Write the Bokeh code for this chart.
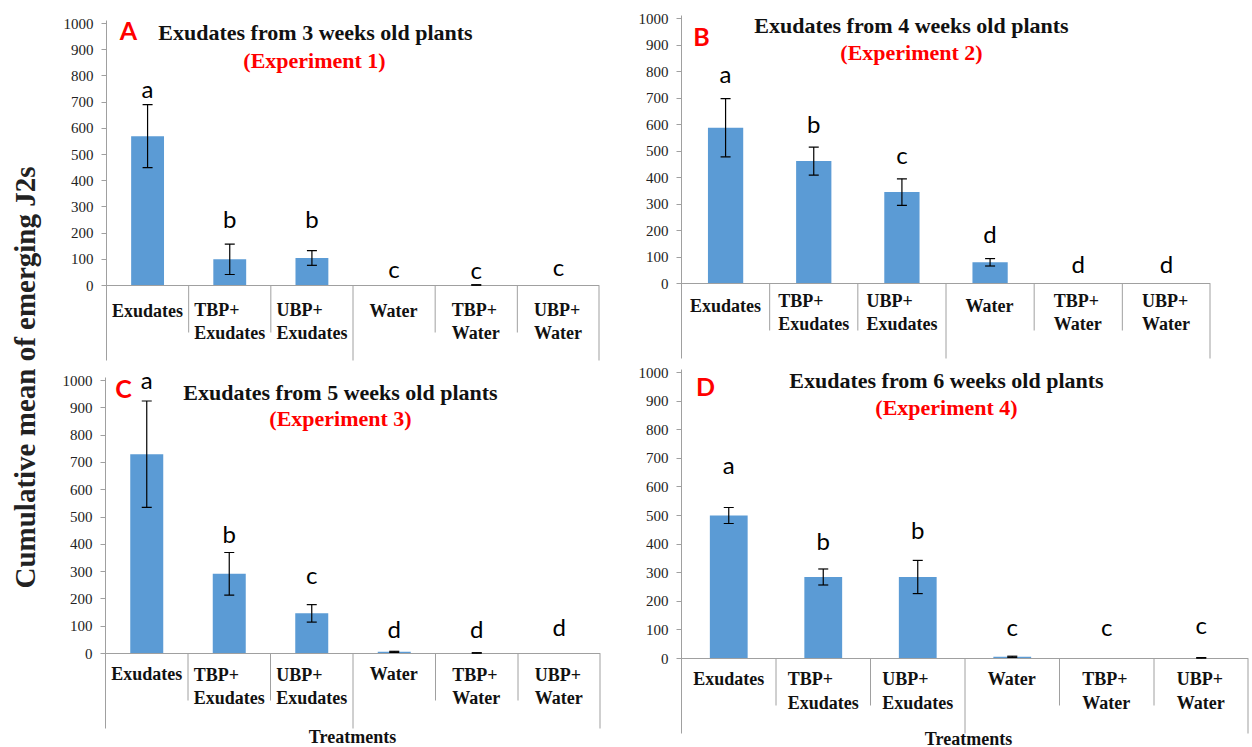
import math
from bokeh.plotting import figure
from bokeh.models import ColumnDataSource, FactorRange, Range1d, FixedTicker, Whisker, TeeHead
from bokeh.layouts import row, column
from bokeh.core.properties import value
from bokeh.embed import file_html
from bokeh.resources import INLINE

# ---------------- data ----------------
categories = ["Exudates", "TBP+ Exudates", "UBP+ Exudates", "Water", "TBP+ Water", "UBP+ Water"]
y_ticks = [0, 100, 200, 300, 400, 500, 600, 700, 800, 900, 1000]
panel_tags = ["A", "B", "C", "D"]
titles = ["Exudates from 3 weeks old plants", "Exudates from 4 weeks old plants",
          "Exudates from 5 weeks old plants", "Exudates from 6 weeks old plants"]
experiments = ["(Experiment 1)", "(Experiment 2)", "(Experiment 3)", "(Experiment 4)"]
y_label = "Cumulative mean of emerging J2s"
x_label = "Treatments"

means_A = [570, 100, 105, 0, 2, 0]
errors_A = [120, 58, 28, 0, 1, 0]
letters_A = ["a", "b", "b", "c", "c", "c"]
letter_y_A = [718, 221, 221, 31, 26, 40]

means_B = [588, 462, 345, 80, 0, 0]
errors_B = [110, 53, 50, 14, 0, 0]
letters_B = ["a", "b", "c", "d", "d", "d"]
letter_y_B = [758, 570, 453, 155, 42, 42]

means_C = [730, 292, 147, 6, 2, 0]
errors_C = [195, 78, 32, 2, 1, 0]
letters_C = ["a", "b", "c", "d", "d", "d"]
letter_y_C = [971, 407, 256, 59, 59, 66]

means_D = [500, 285, 285, 6, 0, 2]
errors_D = [28, 28, 58, 2, 0, 1]
letters_D = ["a", "b", "b", "c", "c", "c"]
letter_y_D = [647, 381, 420, 80, 80, 87]

# ---------------- style / layout ----------------
SERIF = "Liberation Serif"
SANS = "Lato"
BLUE = "#5B9BD5"
GRAY = "#A0A0A0"
RED = "#FF0000"
LETTER_SHIFT = -9   # px, compensates the sans font's baseline placement
TAG_SHIFT = -3

# page-pixel geometry of each panel
GEO = [
    dict(fx=48, fy=0, w=572, h=365, fl=106, fr=599, y0=285, y1000=23,
         tag=(128, 32), title=(315, 32), exp=(314, 60), lab=(25, 24, 47)),
    dict(fx=620, fy=0, w=632, h=365, fl=681, fr=1210, y0=283, y1000=18,
         tag=(701, 38), title=(911, 25), exp=(911, 52), lab=(22, 17, 40)),
    dict(fx=48, fy=365, w=572, h=382, fl=105, fr=600, y0=653, y1000=380,
         tag=(123, 390), title=(340, 392), exp=(340, 418), lab=(20, 21, 44), xl=(352, 736)),
    dict(fx=620, fy=365, w=632, h=382, fl=681, fr=1248, y0=658, y1000=372,
         tag=(705, 388), title=(946, 380), exp=(946, 407), lab=(20, 20, 44), xl=(968, 738)),
]

TIMES_BOLD = {"E": 667, "x": 500, "u": 556, "d": 556, "a": 500, "t": 333, "e": 444,
              "s": 389, "T": 667, "B": 667, "P": 611, "+": 570, "U": 722, "W": 1000, "r": 444}
CAT_SIZE = 18


def text_w(s, size):
    return sum(TIMES_BOLD.get(c, 500) for c in s) / 1000.0 * size


def panel(i, means, errors, letters, letter_y):
    g = GEO[i]
    scale = (g["y0"] - g["y1000"]) / 1000.0
    cell = (g["fr"] - g["fl"]) / 6.0
    y_end = (g["y0"] - g["fy"]) / scale
    y_start = -(g["fy"] + g["h"] - g["y0"]) / scale

    def px_x(px):
        return (px - g["fl"]) / cell

    def px_y(py):
        return (g["y0"] - py) / scale

    p = figure(width=g["w"], height=g["h"], title=None,
               x_range=FactorRange(*categories, range_padding=0, factor_padding=0),
               y_range=Range1d(y_start, y_end),
               output_backend="svg", toolbar_location=None, x_axis_location=None,
               min_border_left=g["fl"] - g["fx"], min_border_right=g["fx"] + g["w"] - g["fr"],
               min_border_top=0, min_border_bottom=0)
    p.outline_line_color = None
    p.grid.visible = False
    p.background_fill_color = "white"
    p.border_fill_color = "white"

    ax = p.yaxis[0]
    ax.ticker = FixedTicker(ticks=y_ticks)
    ax.bounds = (-75 / scale, 1000 + 3 / scale)
    ax.axis_line_color = GRAY
    ax.major_tick_line_color = GRAY
    ax.minor_tick_line_color = None
    ax.major_tick_in = 0
    ax.major_tick_out = 5
    ax.major_label_standoff = 8
    ax.major_label_text_font = SERIF
    ax.major_label_text_font_size = "15px"
    ax.major_label_text_color = "#222222"

    # bars
    src = ColumnDataSource(dict(cat=categories, val=means))
    p.vbar(x="cat", top="val", bottom=0, width=0.4, source=src,
           fill_color=BLUE, line_color=None)

    # axis table lines
    inner = -47 / scale
    outer = -75 / scale
    p.segment(x0=[1, 2, 3, 4, 5], y0=[0] * 5, x1=[1, 2, 3, 4, 5],
              y1=[inner, inner, outer, inner, inner], line_color=GRAY, line_width=1)
    p.segment(x0=[6], y0=[0], x1=[6], y1=[outer], line_color=GRAY, line_width=2)
    p.segment(x0=[0], y0=[0], x1=[6], y1=[0], line_color=GRAY, line_width=1)

    # error bars
    idx = [k for k in range(len(categories)) if errors[k] > 0]
    esrc = ColumnDataSource(dict(cat=[categories[k] for k in idx],
                                 up=[means[k] + errors[k] for k in idx],
                                 lo=[means[k] - errors[k] for k in idx]))
    p.add_layout(Whisker(base="cat", upper="up", lower="lo", source=esrc, level="annotation",
                         line_color="black", line_width=1.2,
                         upper_head=TeeHead(size=10, line_color="black", line_width=1.2),
                         lower_head=TeeHead(size=10, line_color="black", line_width=1.2)))

    # significance letters
    lsrc = ColumnDataSource(dict(cat=categories, ly=letter_y, lt=letters))
    p.text(x="cat", y="ly", text="lt", source=lsrc, y_offset=LETTER_SHIFT, text_align="center",
           text_baseline="alphabetic", text_font=value(SANS), text_font_size="24px",
           text_color="black")

    # category labels (left-aligned lines, block centred in its cell)
    single, l1, l2 = g["lab"]
    c1, t1, o1, y1 = [], [], [], []
    c2, t2, o2, y2 = [], [], [], []
    for c in categories:
        parts = c.split(" ", 1)
        bw = max(text_w(s, CAT_SIZE) for s in parts)
        c1.append(c); t1.append(parts[0]); o1.append(-bw / 2)
        if len(parts) == 1:
            y1.append(-single / scale)
        else:
            y1.append(-l1 / scale)
            c2.append(c); t2.append(parts[1]); o2.append(-bw / 2); y2.append(-l2 / scale)
    for cc, tt, oo, yy in ((c1, t1, o1, y1), (c2, t2, o2, y2)):
        p.text(x="cat", y="y", text="t", x_offset="xo",
               source=ColumnDataSource(dict(cat=cc, t=tt, xo=oo, y=yy)),
               text_align="left", text_baseline="middle", text_font=value(SERIF),
               text_font_style="bold", text_font_size=f"{CAT_SIZE}px", text_color="#111111")

    # panel tag, title, experiment
    p.text(x=[px_x(g["tag"][0])], y=[px_y(g["tag"][1])], text=[panel_tags[i]], y_offset=TAG_SHIFT,
           text_align="center", text_baseline="middle", text_font=value(SANS),
           text_font_style="bold", text_font_size="25px", text_color=RED)
    p.text(x=[px_x(g["title"][0])], y=[px_y(g["title"][1])], text=[titles[i]],
           text_align="center", text_baseline="middle", text_font=value(SERIF),
           text_font_style="bold", text_font_size="22px", text_color="#111111")
    p.text(x=[px_x(g["exp"][0])], y=[px_y(g["exp"][1])], text=[experiments[i]],
           text_align="center", text_baseline="middle", text_font=value(SERIF),
           text_font_style="bold", text_font_size="22px", text_color=RED)
    if "xl" in g:
        p.text(x=[px_x(g["xl"][0])], y=[px_y(g["xl"][1])], text=[x_label],
               text_align="center", text_baseline="middle", text_font=value(SERIF),
               text_font_style="bold", text_font_size="18px", text_color="#111111")
    return p


pA = panel(0, means_A, errors_A, letters_A, letter_y_A)
pB = panel(1, means_B, errors_B, letters_B, letter_y_B)
pC = panel(2, means_C, errors_C, letters_C, letter_y_C)
pD = panel(3, means_D, errors_D, letters_D, letter_y_D)

# y-axis title strip
pL = figure(width=48, height=747, title=None, x_range=Range1d(0, 48), y_range=Range1d(0, 747),
            output_backend="svg", toolbar_location=None,
            x_axis_location=None, y_axis_location=None, min_border=0)
pL.outline_line_color = None
pL.grid.visible = False
pL.text(x=[24], y=[747 - 377], text=[y_label], angle=math.pi / 2, text_align="center",
        text_baseline="middle", text_font=value(SERIF), text_font_style="bold",
        text_font_size="29px", text_color="#222222")

layout = row(pL, column(row(pA, pB), row(pC, pD)))
open("out.html", "w").write(file_html(layout, INLINE))
